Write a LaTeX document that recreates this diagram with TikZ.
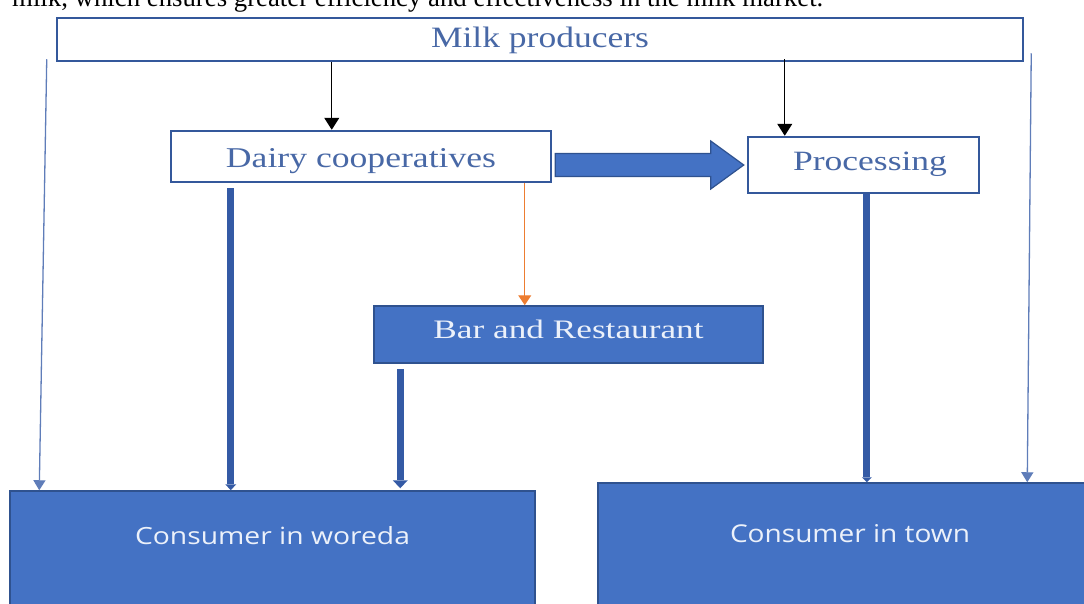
\documentclass[tikz,border=0pt]{standalone}
\usepackage{fontspec}
\setmainfont{Liberation Serif}
\newfontfamily\uisans{Open Sans}
\usepackage{graphicx}
\usetikzlibrary{arrows.meta,calc}
\definecolor{boxfill}{RGB}{68,114,196}
\definecolor{boxedge}{RGB}{47,82,143}
\definecolor{wedge}{RGB}{52,88,155}
\definecolor{labelblue}{RGB}{72,104,166}
\definecolor{thinblue}{RGB}{95,125,185}
\definecolor{thickblue}{RGB}{52,90,165}
\definecolor{orangeline}{RGB}{237,125,49}
\definecolor{paletext}{RGB}{236,241,250}
\begin{document}
\begin{tikzpicture}[x=1pt,y=-1pt,
  whitebox/.style={draw=wedge,line width=2.5pt,fill=white,rectangle,inner sep=0pt,text=labelblue},
  bluebox/.style={draw=boxedge,line width=1.5pt,fill=boxfill,rectangle,inner sep=0pt,text=paletext},
  thinconn/.style={draw=thinblue,line width=1.3pt,-{Triangle[length=10pt,width=12pt]}},
  blackconn/.style={draw=black,line width=1.1pt,-{Triangle[length=12pt,width=15pt]}},
  orangeconn/.style={draw=orangeline,line width=1.2pt,-{Triangle[length=10pt,width=13pt]}},
  thickconn/.style={draw=thickblue,line width=7pt},
  bigarrow/.style={fill=boxfill,draw=boxedge,line width=1.2pt,line join=miter}]
\useasboundingbox (0,0) rectangle (1084,603);

% partially visible sentence above the chart
\node[anchor=base west,inner sep=0pt] (intro) at (12,6)
  {\resizebox{811pt}{!}{milk, which ensures greater efficiency and effectiveness in the milk market.}};

% boxes
\node[whitebox,minimum width=966pt,minimum height=43pt,text height=20pt,text depth=5pt]
  (milk) at (540,39.5) {\resizebox{218pt}{20.5pt}{Milk producers}};
\node[whitebox,minimum width=380pt,minimum height=51pt,text height=26pt,text depth=5pt]
  (dairy) at (361,156.5) {\resizebox{270pt}{19pt}{Dairy cooperatives}};
\node[whitebox,minimum width=231pt,minimum height=56pt,text height=15pt,text depth=5pt]
  (proc) at (863.5,165) {\hspace*{13pt}\resizebox{154pt}{18.5pt}{Processing}};
\node[bluebox,minimum width=389pt,minimum height=57pt,text height=12pt,text depth=5pt]
  (bar) at (568.5,334.5) {\resizebox{270pt}{18.5pt}{Bar and Restaurant}};
\node[bluebox,minimum width=525pt,minimum height=119pt,text height=5pt,text depth=18pt]
  (woreda) at (272.5,550.5) {\resizebox{275pt}{18pt}{\uisans Consumer in woreda}};
\node[bluebox,minimum width=504pt,minimum height=127pt,text height=5pt,text depth=14pt]
  (town) at (850,546.5) {\resizebox{240pt}{18pt}{\uisans Consumer in town}};

% helper coordinates
\coordinate (mL) at ([xshift=-9pt,yshift=3pt]milk.south west);
\coordinate (wL) at ([xshift=30pt]woreda.north west);
\coordinate (mR) at ([xshift=7pt,yshift=9pt]milk.south east);
\coordinate (tR) at ([xshift=430pt]town.north west);
\coordinate (m1) at ([xshift=276pt]milk.south west);
\coordinate (m2) at ([xshift=729pt,yshift=3pt]milk.south west);
\coordinate (d1) at ([xshift=61pt,yshift=-5pt]dairy.south west);
\coordinate (d2) at ([xshift=355pt]dairy.south west);
\coordinate (b1) at ([xshift=27pt,yshift=-5pt]bar.south west);
\coordinate (p1) at ([xshift=120pt]proc.south west);
\coordinate (a0) at (dairy.east |- proc.west);

% thin connectors from milk producers
\draw[thinconn] (mL) -- (wL);
\draw[thinconn] (mR) -- (tR);
\draw[blackconn] (m1) -- (m1 |- dairy.north);
\draw[blackconn] (m2) -- (m2 |- proc.north);

% orange connector
\draw[orangeconn] (d2) -- (d2 |- bar.north);

% thick connectors
\draw[thickconn,-{Triangle[length=6pt,width=11pt,line width=0pt]}] (d1) -- (d1 |- woreda.north);
\draw[thickconn,-{Triangle[length=8pt,width=15pt,line width=0pt]}] (b1) -- ([yshift=2pt]b1 |- woreda.north);
\draw[thickconn,-{Triangle[length=5pt,width=10pt,line width=0pt]}] (p1) -- (p1 |- town.north);

% big block arrow dairy -> processing
\filldraw[bigarrow] ($(a0)+(3,-11.5)$) -- ($(proc.west)+(-36,-11.5)$) -- ($(proc.west)+(-36,-24)$)
  -- ($(proc.west)+(-3,0)$) -- ($(proc.west)+(-36,24)$) -- ($(proc.west)+(-36,11.5)$)
  -- ($(a0)+(3,11.5)$) -- cycle;
\end{tikzpicture}
\end{document}
